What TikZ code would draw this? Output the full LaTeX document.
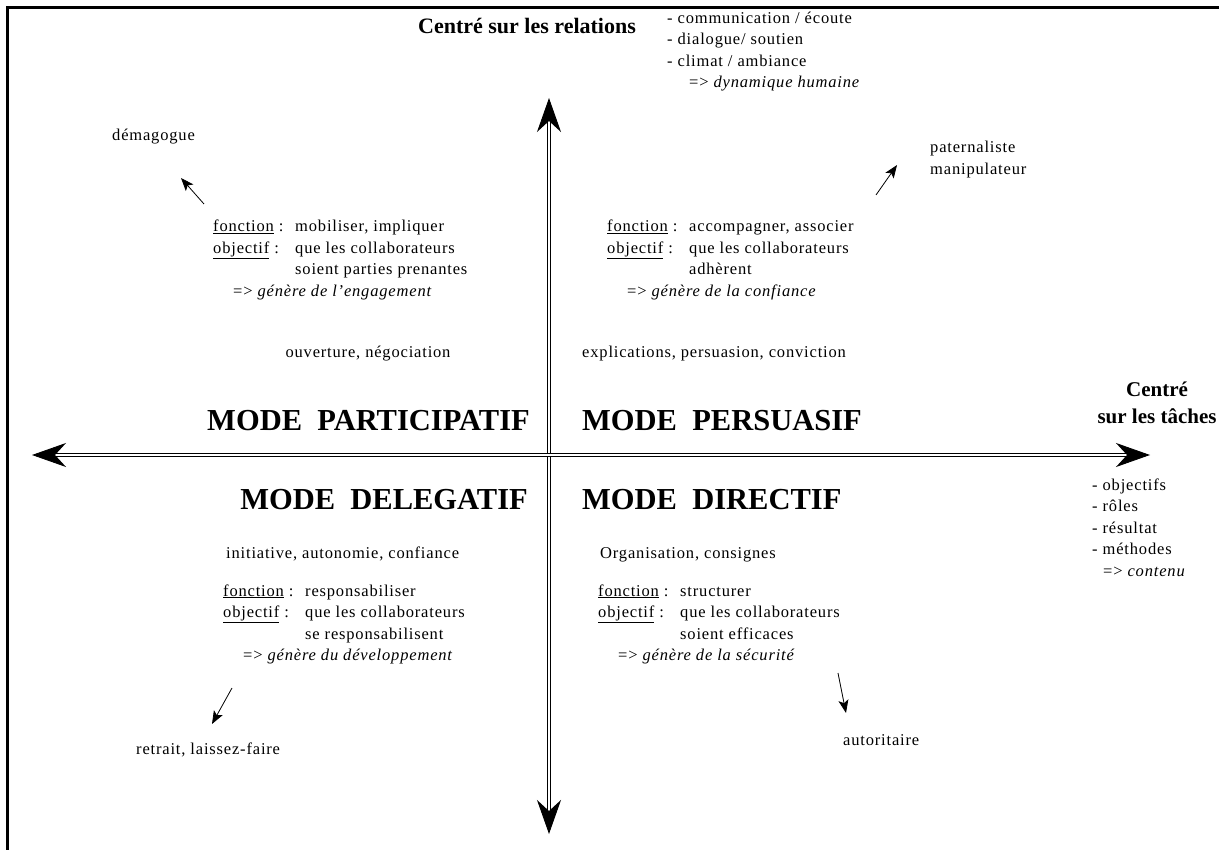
\documentclass[tikz,border=0pt]{standalone}
\usepackage{fontspec}
\setmainfont{Liberation Serif}
\usetikzlibrary{arrows.meta}
\tikzset{
	frame/.style={line width=3pt},
	axis/.style={double, line width=0.9pt, double distance=1.6pt,
			{Stealth[length=34pt,width=24pt,inset=11pt]}-{Stealth[length=34pt,width=24pt,inset=11pt]}},
	pointer/.style={line width=0.8pt, -{Stealth[length=13pt,width=10pt,inset=3pt]}},
	txt/.style={inner sep=0pt, font=\fontsize{16.5}{21.5}\selectfont\addfontfeature{LetterSpace=5}},
	mode/.style={inner sep=0pt, font=\fontsize{30.5}{32}\selectfont\bfseries},
	axislabel/.style={inner sep=0pt, font=\fontsize{22}{28}\selectfont\bfseries}
}
\newcommand{\roleblock}[3]{%
	\begin{tabular}[t]{@{}p{82pt}@{}l@{}}
		\underline{fonction} : & #1 \\
		\underline{objectif} : & que les collaborateurs \\
		                       & #2 \\
		\multicolumn{2}{@{}l@{}}{\hspace{20pt}=> \textit{#3}}
	\end{tabular}}

\begin{document}
\begin{tikzpicture}[x=1pt,y=-1pt]
	\useasboundingbox (0,0) rectangle (1219,850);
	\draw[frame] (7,850) -- (7,8) -- (1219,8);

	% axes
	\coordinate (top) at (549,98);
	\coordinate (bottom) at (549,834);
	\coordinate (left) at (32,455);
	\coordinate (right) at (1150,455);
	\draw[axis] (bottom) -- (top);
	\draw[axis] (left) -- (right);

	% axis labels
	\node[axislabel, anchor=base] (relations) at (527,34) {Centré sur les relations};
	\node[txt, anchor=base west] (relitems) at (667,23.5) {\begin{tabular}[t]{@{}l@{}}
			- communication / écoute \\
			- dialogue/ soutien \\
			- climat / ambiance \\
			\hspace{22pt}=> \textit{dynamique humaine}
		\end{tabular}};
	\node[axislabel, anchor=base, font=\fontsize{21}{28}\selectfont\bfseries] (taches) at (1157,396) {\begin{tabular}[t]{@{}c@{}}
			Centré \\ sur les tâches
		\end{tabular}};
	\node[txt, anchor=base west] (tachitems) at (1092,490) {\begin{tabular}[t]{@{}l@{}}
			- objectifs \\ - rôles \\ - résultat \\ - méthodes \\
			\hspace{11pt}=> \textit{contenu}
		\end{tabular}};

	% modes
	\node[mode, anchor=base east] (participatif) at (530,431) {MODE\ \ PARTICIPATIF};
	\node[mode, anchor=base west] (persuasif) at (582,431) {MODE\ \ PERSUASIF};
	\node[mode, anchor=base east] (delegatif) at (528,509) {MODE\ \ DELEGATIF};
	\node[mode, anchor=base west] (directif) at (582,509) {MODE\ \ DIRECTIF};

	\node[txt, anchor=base] (partkeys) at (368,358) {ouverture, négociation};
	\node[txt, anchor=base west] (perskeys) at (582,358) {explications, persuasion, conviction};
	\node[txt, anchor=base west] (delkeys) at (226,558) {initiative, autonomie, confiance};
	\node[txt, anchor=base west] (dirkeys) at (600,558) {Organisation, consignes};

	\node[txt, anchor=base west] (partblock) at (213,232)
	{\roleblock{mobiliser, impliquer}{soient parties prenantes}{génère de l'engagement}};
	\node[txt, anchor=base west] (persblock) at (607,232)
	{\roleblock{accompagner, associer}{adhèrent}{génère de la confiance}};
	\node[txt, anchor=base west] (delblock) at (223,596)
	{\roleblock{responsabiliser}{se responsabilisent}{génère du développement}};
	\node[txt, anchor=base west] (dirblock) at (598,596)
	{\roleblock{structurer}{soient efficaces}{génère de la sécurité}};

	% drifts
	\node[txt, anchor=base west] (demagogue) at (112,141) {démagogue};
	\node[txt, anchor=base west] (paternaliste) at (930,153) {\begin{tabular}[t]{@{}l@{}}
			paternaliste \\ manipulateur
		\end{tabular}};
	\node[txt, anchor=base west] (autoritaire) at (843,745) {autoritaire};
	\node[txt, anchor=base west] (retrait) at (136,754) {retrait, laissez-faire};

	\coordinate (demtail) at (204,204);
	\coordinate (demtip) at (181,178);
	\coordinate (pattail) at (876,195);
	\coordinate (pattip) at (897,165);
	\coordinate (auttail) at (838,673);
	\coordinate (auttip) at (846,713);
	\coordinate (rettail) at (232,688);
	\coordinate (rettip) at (212,724);
	\draw[pointer] (demtail) -- (demtip);
	\draw[pointer] (pattail) -- (pattip);
	\draw[pointer] (auttail) -- (auttip);
	\draw[pointer] (rettail) -- (rettip);
\end{tikzpicture}
\end{document}
